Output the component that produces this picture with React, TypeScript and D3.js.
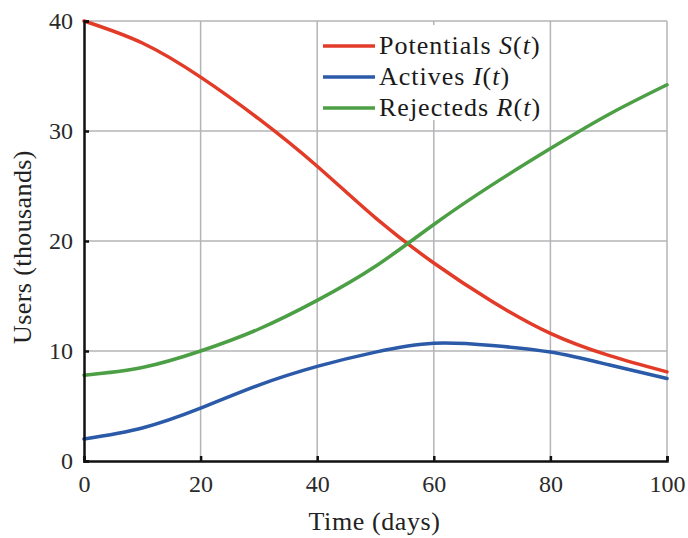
import React, { useEffect, useRef } from 'react';
import * as d3 from 'd3';

// time in days
const days = [0, 10, 20, 30, 40, 50, 60, 70, 80, 90, 100];
// thousands of users
const potentials = [40, 38.0, 34.9, 31.1, 26.8, 22.1, 18.0, 14.5, 11.6, 9.6, 8.1];
const actives = [2.0, 3.0, 4.8, 6.9, 8.6, 9.9, 10.7, 10.5, 9.9, 8.75, 7.5];
const rejecteds = [7.8, 8.5, 10.0, 12.0, 14.6, 17.7, 21.5, 25.1, 28.4, 31.5, 34.2];

const xTicks = [0, 20, 40, 60, 80, 100];
const yTicks = [0, 10, 20, 30, 40];

const seriesNames = ['Potentials', 'Actives', 'Rejecteds'];
const seriesSymbols = ['S', 'I', 'R'];
const colors = ['#e23b28', '#2a5aa8', '#4c9f45'];

const W = 688;
const H = 538;
const margin = { top: 21, right: 21, bottom: 77, left: 84 };
const font = '"Liberation Serif", "Times New Roman", serif';

export default function App() {
  const ref = useRef<SVGSVGElement>(null);

  useEffect(() => {
    const svg = d3.select(ref.current);
    svg.selectAll('*').remove();

    const x = d3.scaleLinear().domain([0, 100]).range([margin.left, W - margin.right]);
    const y = d3.scaleLinear().domain([0, 40]).range([H - margin.bottom, margin.top]);

    // grid
    const grid = svg.append('g').attr('stroke', '#b4b4b8').attr('stroke-width', 1.5);
    grid.selectAll('line.v')
      .data(xTicks.slice(1))
      .enter()
      .append('line')
      .attr('x1', d => x(d)).attr('x2', d => x(d))
      .attr('y1', y(0)).attr('y2', y(40));
    grid.selectAll('line.h')
      .data(yTicks.slice(1))
      .enter()
      .append('line')
      .attr('x1', x(0)).attr('x2', x(100))
      .attr('y1', d => y(d)).attr('y2', d => y(d));

    // legend background hides the grid behind it
    svg.append('rect')
      .attr('x', x(40) + 2).attr('y', y(40) + 4)
      .attr('width', x(80) - x(40) - 4).attr('height', 95)
      .attr('fill', '#fff');

    // curves
    const all = [potentials, actives, rejecteds];
    const line = d3.line<number>()
      .x((d, i) => x(days[i]))
      .y(d => y(d))
      .curve(d3.curveNatural);

    all.forEach((vals, k) => {
      svg.append('path')
        .datum(vals)
        .attr('d', line)
        .attr('fill', 'none')
        .attr('stroke', colors[k])
        .attr('stroke-width', 3.5)
        .attr('stroke-linecap', 'round');
    });

    // axes
    const xAxis = svg.append('g')
      .attr('transform', `translate(0,${y(0)})`)
      .call(d3.axisBottom(x).tickValues(xTicks).tickSize(-5).tickPadding(14).tickFormat(d3.format('d')));
    const yAxis = svg.append('g')
      .attr('transform', `translate(${x(0)},0)`)
      .call(d3.axisLeft(y).tickValues(yTicks).tickSize(-5).tickPadding(11).tickFormat(d3.format('d')));

    [xAxis, yAxis].forEach(a => {
      a.select('.domain').attr('stroke', '#111').attr('stroke-width', 2.5);
      a.selectAll('.tick line').attr('stroke', '#111').attr('stroke-width', 2.5);
      a.selectAll('.tick text')
        .attr('fill', '#2a2a2a')
        .style('font-family', font)
        .style('font-size', '24px');
    });

    // axis titles
    svg.append('text')
      .attr('x', x(50) - 1).attr('y', 530)
      .attr('text-anchor', 'middle')
      .attr('fill', '#222')
      .style('font-family', font)
      .style('font-size', '26px')
      .style('letter-spacing', '0.6px')
      .text('Time (days)');

    svg.append('text')
      .attr('transform', `translate(31,${(y(0) + y(40)) / 2 + 6}) rotate(-90)`)
      .attr('text-anchor', 'middle')
      .attr('fill', '#222')
      .style('font-family', font)
      .style('font-size', '26px')
      .style('letter-spacing', '0.4px')
      .text('Users (thousands)');

    // legend
    const legend = svg.append('g');
    seriesNames.forEach((name, k) => {
      const ly = 46 + k * 31;
      legend.append('line')
        .attr('x1', 323).attr('x2', 375)
        .attr('y1', ly).attr('y2', ly)
        .attr('stroke', colors[k])
        .attr('stroke-width', 3.5);
      const t = legend.append('text')
        .attr('x', 379).attr('y', ly + 8)
        .attr('fill', '#1a1a1a')
        .style('font-family', font)
        .style('font-size', '26px')
        .style('letter-spacing', '1px');
      t.append('tspan').text(name + ' ');
      t.append('tspan').style('font-style', 'italic').text(seriesSymbols[k]);
      t.append('tspan').text('(');
      t.append('tspan').style('font-style', 'italic').text('t');
      t.append('tspan').text(')');
    });
  }, []);

  return (
    <svg ref={ref} width={W} height={H} style={{ display: 'block', position: 'absolute', left: 0, top: 0, background: '#fff' }} />
  );
}
